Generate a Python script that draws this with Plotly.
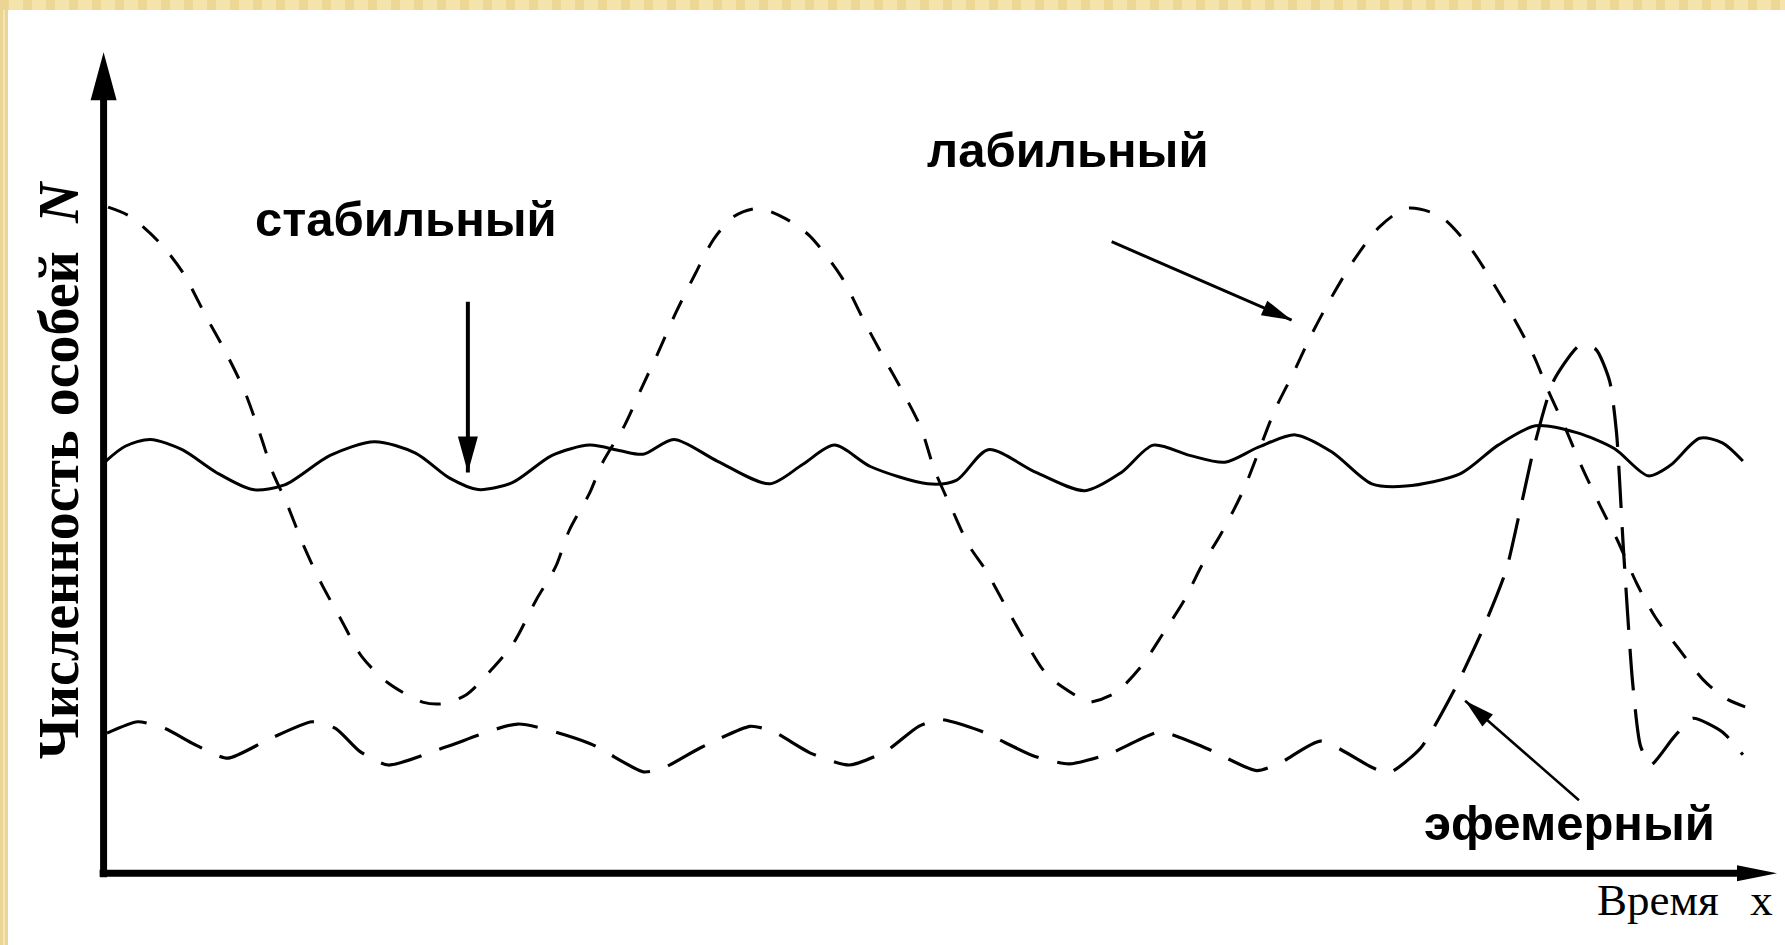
import math
import plotly.graph_objects as go

W, H = 1785, 945

# ---------------- data (time units, N units) ----------------
stable_t = [2, 19, 41, 69, 99, 131, 159, 199, 238, 274, 304, 329, 359, 394, 427, 454, 474, 501,
            539, 585, 614, 642, 674, 724, 749, 777, 819, 862, 894, 922, 954, 985, 1014, 1047,
            1079, 1114, 1144, 1192, 1225, 1258, 1294, 1327, 1357, 1376, 1402, 1422, 1440]
stable_n = [362, 375, 381, 372, 352, 337, 341, 367, 379, 369, 347, 337, 343, 367, 376, 371, 368, 381,
            362, 342, 359, 376, 357, 342, 345, 372, 352, 336, 352, 376, 367, 361, 374, 385,
            370, 342, 340, 351, 376, 393, 387, 373, 349, 358, 382, 378, 362]

labile_t = [4, 23, 50, 70, 90, 106, 124, 138, 149, 160, 176, 191, 209, 227, 250, 281, 299, 319,
            340, 360, 380, 397, 409, 427, 438, 458, 473, 487, 503, 520, 536, 554, 575, 599,
            620, 648, 667, 683, 703, 718, 730, 746, 760, 775, 791, 809, 829, 857, 864, 888,
            911, 931, 950, 964, 981, 1001, 1029, 1045, 1060, 1077, 1098, 1121, 1145, 1174,
            1200, 1219, 1238, 1256, 1269, 1284, 1298, 1314, 1330, 1347, 1363, 1383, 1405,
            1424, 1442]
labile_n = [585, 577, 553, 527, 489, 460, 423, 384, 351, 327, 287, 255, 222, 190, 167, 150, 149, 157,
            178, 202, 240, 269, 301, 334, 360, 394, 427, 457, 493, 527, 557, 577, 584, 575,
            560, 524, 487, 457, 421, 391, 354, 318, 288, 266, 237, 205, 174, 154, 150, 158,
            181, 211, 241, 269, 297, 336, 407, 439, 471, 503, 538, 568, 584, 577,
            550, 521, 489, 455, 424, 391, 358, 324, 292, 254, 225, 198, 170,
            154, 146]

ephemeral_t = [3, 30, 54, 80, 109, 144, 183, 204, 225, 250, 301, 364, 427, 474, 491, 524, 568, 587,
               622, 655, 687, 716, 735, 770, 817, 848, 884, 928, 968, 1013, 1034, 1069, 1114,
               1129, 1157, 1186, 1211, 1232, 1245, 1258, 1274, 1297, 1311, 1323, 1329, 1335,
               1343, 1350, 1359, 1379, 1396, 1422, 1440]
ephemeral_n = [123, 133, 127, 113, 101, 117, 133, 127, 107, 95, 111, 131, 114, 89, 92, 110, 129, 125,
               105, 95, 107, 129, 135, 125, 103, 96, 105, 124, 110, 90, 97, 116, 93,
               88, 110, 160, 213, 266, 322, 380, 433, 464, 460, 432, 387, 286,
               169, 112, 95, 119, 136, 124, 104]

# labels and arrows (tail -> tip), in the same units
label_text = ["стабильный", "лабильный", "эфемерный"]
label_t = [266, 847, 1288]
label_n = [575, 635, 44]

arrow_tail_t = [320, 885.5, 1296]
arrow_tail_n = [502, 554.7, 64]
arrow_tip_t = [320, 1043.6, 1196]
arrow_tip_n = [352, 485.9, 151.5]

x_title = "Время\u00a0\u00a0\u2009x"
y_title = "<b>Численность особей\u00a0 <i>N</i></b>"

# axis extents (units)
X_RANGE = [-91, 1477]
Y_RANGE = [-63.1, 767]
Y_AXIS_TOP = 721
X_AXIS_END = 1470

fig = go.Figure()

fig.add_trace(go.Scatter(x=labile_t, y=labile_n, mode="lines", name="лабильный",
                         line=dict(color="black", width=3, dash="21px,19px",
                                   shape="spline", smoothing=0.8)))
fig.add_trace(go.Scatter(x=ephemeral_t, y=ephemeral_n, mode="lines", name="эфемерный",
                         line=dict(color="black", width=3.2, dash="42px,19px",
                                   shape="spline", smoothing=0.6)))
fig.add_trace(go.Scatter(x=stable_t, y=stable_n, mode="lines", name="стабильный",
                         line=dict(color="black", width=3, shape="spline", smoothing=0.8)))

shapes = []

# slide border (beige bands)
shapes.append(dict(type="rect", xref="paper", yref="paper", x0=0, x1=1, y0=1 - 10 / H, y1=1,
                   fillcolor="#F5E3AC", line=dict(width=0), layer="below"))
for k in range(0, W, 23):
    shapes.append(dict(type="rect", xref="paper", yref="paper", x0=k / W, x1=(k + 9) / W,
                       y0=1 - 10 / H, y1=1, fillcolor="#EAD18C", opacity=0.7,
                       line=dict(width=0), layer="below"))
shapes.append(dict(type="rect", xref="paper", yref="paper", x0=0, x1=8 / W, y0=0, y1=1,
                   fillcolor="#EBD595", line=dict(width=0), layer="below"))
shapes.append(dict(type="rect", xref="paper", yref="paper", x0=3 / W, x1=5 / W, y0=0, y1=1 - 10 / H,
                   fillcolor="#F4E6B8", line=dict(width=0), layer="below"))

# axes
shapes.append(dict(type="line", xref="x", yref="y", x0=0, x1=0, y0=-3.5, y1=Y_AXIS_TOP - 30,
                   line=dict(color="black", width=7)))
shapes.append(dict(type="line", xref="x", yref="y", x0=-3.5, x1=X_AXIS_END - 25, y0=0, y1=0,
                   line=dict(color="black", width=7)))


def head(tip_x, tip_y, tail_x, tail_y, length, width):
    dx, dy = tip_x - tail_x, tip_y - tail_y
    d = math.hypot(dx, dy)
    ux, uy = dx / d, dy / d
    px, py = -uy, ux
    bx, by = -ux * length, -uy * length
    pts = [(0, 0), (bx + px * width / 2, by + py * width / 2), (bx - px * width / 2, by - py * width / 2)]
    path = "M" + " L".join(f"{x:.2f},{y:.2f}" for x, y in pts) + " Z"
    return dict(type="path", xref="x", yref="y", xsizemode="pixel", ysizemode="pixel",
                xanchor=tip_x, yanchor=tip_y, path=path, fillcolor="black",
                line=dict(width=0), layer="above")


shapes.append(head(0, Y_AXIS_TOP, 0, 0, 48, 26))
shapes.append(head(X_AXIS_END, 0, 0, 0, 40, 16))

arrow_w = [4, 3, 2.5]
arrow_len = [36, 30, 30]
arrow_wid = [20, 16, 16]
for i in range(3):
    shapes.append(dict(type="line", xref="x", yref="y",
                       x0=arrow_tail_t[i], y0=arrow_tail_n[i], x1=arrow_tip_t[i], y1=arrow_tip_n[i],
                       line=dict(color="black", width=arrow_w[i])))
    shapes.append(head(arrow_tip_t[i], arrow_tip_n[i], arrow_tail_t[i], arrow_tail_n[i],
                       arrow_len[i], arrow_wid[i]))

annotations = []
for txt, t, n in zip(label_text, label_t, label_n):
    annotations.append(dict(x=t, y=n, xref="x", yref="y", text=f"<b>{txt}</b>", showarrow=False,
                            xanchor="center", yanchor="middle",
                            font=dict(family="Liberation Sans, Arial", size=49, color="black")))
annotations.append(dict(x=1389, y=-24, xref="x", yref="y", text=x_title, showarrow=False,
                        xanchor="center", yanchor="middle",
                        font=dict(family="Liberation Serif, Times New Roman", size=45, color="black")))
annotations.append(dict(x=-39, y=354, xref="x", yref="y", text=y_title, showarrow=False,
                        xanchor="center", yanchor="middle", textangle=-90,
                        font=dict(family="Liberation Serif, Times New Roman", size=56, color="black")))

fig.update_layout(
    width=W, height=H,
    margin=dict(l=0, r=0, t=0, b=0),
    paper_bgcolor="white", plot_bgcolor="white",
    showlegend=False,
    xaxis=dict(range=X_RANGE, visible=False, showgrid=False, zeroline=False, fixedrange=True),
    yaxis=dict(range=Y_RANGE, visible=False, showgrid=False, zeroline=False, fixedrange=True),
    shapes=shapes,
    annotations=annotations,
)

fig.write_html("out.html", config={"displayModeBar": False},
               post_script="document.body.style.margin='0';document.body.style.overflow='hidden';")
